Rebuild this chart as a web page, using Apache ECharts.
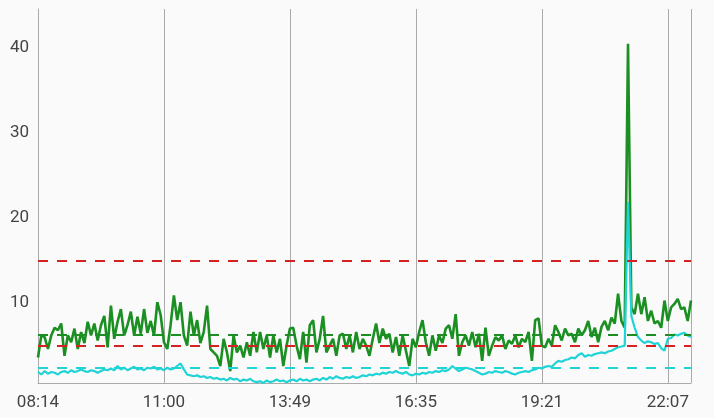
<!DOCTYPE html>
<html>
<head>
<meta charset="utf-8">
<script src="https://cdn.jsdelivr.net/npm/echarts@6/dist/echarts.min.js"></script>
<style>
html,body{margin:0;padding:0;background:#fafafa;}
#chart{width:714px;height:418px;}
</style>
</head>
<body>
<div id="chart"></div>
<script>
// x tick labels (every 38 samples)
const xTickLabels = ['08:14', '11:00', '13:49', '16:35', '19:21', '22:07'];
const samplesPerTick = 38;

// green series values (one per sample)
const greenValues = [
  3.6, 6.2, 6.0, 4.6, 6.2, 7.1, 6.8, 7.6, 3.8, 6.2, 5.4, 7.0, 4.6, 6.6, 5.3, 7.8, 6.2, 7.6, 5.6, 7.4, 8.5, 4.8, 9.7, 5.8, 7.8, 9.3, 6.2, 7.4, 9.0, 6.2, 8.4, 6.4, 9.3,
  6.5, 7.9, 6.2, 10.1, 8.6, 5.4, 4.6, 7.4, 10.9, 8.0, 10.1, 6.2, 5.0, 9.0, 6.2, 8.0, 5.3, 6.6, 9.7, 4.6, 4.2, 3.8, 2.6, 5.8, 4.2, 2.0, 6.2, 4.2, 5.0, 3.6, 5.4, 3.8, 6.6,
  4.2, 6.6, 4.6, 6.2, 3.6, 6.2, 4.2, 5.8, 2.6, 5.0, 7.0, 7.1, 5.0, 3.4, 6.6, 3.0, 7.4, 8.0, 4.2, 5.8, 8.5, 4.2, 5.0, 5.8, 3.8, 6.2, 6.4, 4.6, 6.2, 4.2, 6.6, 4.6, 5.8,
  5.0, 3.8, 5.8, 7.6, 5.3, 7.0, 5.8, 6.4, 4.2, 6.0, 3.8, 6.2, 4.4, 2.6, 5.8, 4.8, 6.6, 8.0, 5.4, 3.8, 6.2, 4.4, 6.2, 5.3, 7.0, 7.4, 5.8, 8.7, 3.8, 5.4, 6.2, 5.0, 6.6,
  4.8, 6.4, 3.2, 7.1, 3.8, 5.0, 6.0, 5.6, 6.2, 4.6, 5.6, 5.2, 6.2, 4.8, 5.8, 5.4, 6.6, 3.2, 8.0, 8.2, 5.0, 4.8, 5.8, 5.0, 7.4, 6.6, 5.6, 7.0, 6.2, 6.4, 5.4, 7.0, 6.2,
  6.8, 7.9, 6.0, 7.1, 5.4, 7.2, 7.9, 6.8, 8.3, 7.6, 11.1, 7.9, 7.1, 40.5, 9.5, 8.7, 11.1, 8.7, 10.7, 7.9, 9.1, 7.6, 7.9, 7.1, 10.3, 7.9, 9.5, 9.9, 10.5, 9.3, 9.5, 7.9, 10.3
];

// cyan series values (one per sample)
const cyanValues = [
  1.9, 1.6, 2.0, 1.7, 1.9, 1.8, 1.6, 1.9, 2.0, 1.8, 2.1, 1.9, 2.0, 2.2, 2.0, 1.9, 2.1, 2.0, 1.8, 2.0, 2.2, 2.1, 2.3, 2.1, 2.6, 2.2, 2.4, 2.1, 2.3, 2.5, 2.2, 2.3, 2.1,
  2.4, 2.3, 2.5, 2.2, 2.3, 2.1, 2.4, 2.2, 2.3, 2.6, 2.9, 2.2, 1.6, 1.5, 1.4, 1.5, 1.3, 1.4, 1.2, 1.3, 1.1, 1.2, 1.0, 1.1, 0.9, 1.2, 1.0, 1.1, 0.8, 1.0, 0.9, 1.1, 0.8,
  0.7, 0.8, 0.6, 0.9, 0.7, 0.8, 1.0, 0.8, 0.9, 0.7, 0.9, 1.0, 0.8, 1.1, 0.9, 1.0, 0.8, 1.0, 1.1, 0.9, 1.2, 1.0, 1.3, 1.1, 1.4, 1.2, 1.1, 1.3, 1.2, 1.4, 1.2, 1.3, 1.5,
  1.4, 1.6, 1.5, 1.7, 1.6, 1.8, 1.7, 1.9, 1.8, 2.0, 1.8, 1.7, 1.9, 1.6, 1.5, 1.7, 1.6, 1.8, 1.7, 1.9, 1.8, 2.0, 1.9, 2.1, 2.0, 2.2, 2.6, 2.3, 2.0, 2.2, 2.4, 2.3, 2.2,
  2.0, 1.8, 1.6, 1.7, 1.9, 1.8, 2.0, 1.9, 1.8, 2.0, 1.9, 1.7, 1.6, 1.8, 1.9, 2.0, 1.9, 2.1, 2.2, 2.4, 2.3, 2.5, 2.6, 2.5, 2.9, 3.2, 3.1, 3.3, 3.4, 3.6, 3.5, 3.9, 4.1,
  3.7, 3.9, 3.8, 4.0, 4.1, 4.2, 4.1, 4.3, 4.4, 4.6, 4.8, 4.9, 5.0, 21.9, 8.5, 7.1, 6.0, 5.6, 5.3, 5.5, 5.4, 5.2, 5.3, 4.7, 4.4, 5.8, 5.9, 6.3, 6.2, 6.4, 6.5, 6.2, 6.0
];

// reference levels
const limitLevels = [15, 5];
const greenAverage = 6.3;
const cyanAverage = 2.4;

const yMin = 0.6;
const yMax = 44.6;

const green = '#1b8f22';
const cyan = '#1fd3d6';
const red = '#d42222';
const gridGray = '#ababab';
const labelColor = '#444444';
const font = 'Roboto';

const lastIndex = greenValues.length - 1;
const greenData = greenValues.map((v, i) => [i, v]);
const cyanData = cyanValues.map((v, i) => [i, v]);

const chart = echarts.init(document.getElementById('chart'), null, {renderer: 'canvas'});

const dashStyle = (color) => ({color: color, width: 1.8, type: [10, 9]});

chart.setOption({
  backgroundColor: '#fafafa',
  animation: false,
  grid: {left: 38, right: 23, top: 9, bottom: 35, containLabel: false},
  xAxis: {
    type: 'value',
    min: 0,
    max: lastIndex,
    interval: samplesPerTick,
    axisLine: {show: true, lineStyle: {color: gridGray, width: 1}},
    axisTick: {show: false},
    splitLine: {show: true, showMinLine: true, showMaxLine: true, lineStyle: {color: gridGray, width: 1}},
    axisLabel: {
      show: true,
      showMaxLabel: false,
      margin: 11,
      color: labelColor,
      fontFamily: font,
      fontSize: 17,
      formatter: function (v) {
        const k = Math.round(v / samplesPerTick);
        if (Math.abs(v - k * samplesPerTick) > 1e-6) return '';
        return xTickLabels[k] || '';
      }
    }
  },
  yAxis: {
    type: 'value',
    min: yMin,
    max: yMax,
    axisLine: {show: true, lineStyle: {color: gridGray, width: 1}},
    axisTick: {show: false},
    splitLine: {show: false},
    axisLabel: {
      show: true,
      showMinLabel: false,
      showMaxLabel: false,
      margin: 9,
      color: labelColor,
      fontFamily: font,
      fontSize: 17,
      formatter: function (v) {
        return (Math.abs(v % 10) < 1e-6) ? String(v) : '';
      }
    }
  },
  series: [
    {
      type: 'line',
      data: greenData,
      showSymbol: false,
      symbol: 'none',
      lineStyle: {color: green, width: 2.6},
      z: 2,
      markLine: {
        silent: true, symbol: 'none', label: {show: false},
        lineStyle: dashStyle(green),
        data: [{yAxis: greenAverage}]
      }
    },
    {
      type: 'line',
      data: cyanData,
      showSymbol: false,
      symbol: 'none',
      lineStyle: {color: cyan, width: 2.2},
      z: 3,
      markLine: {
        silent: true, symbol: 'none', label: {show: false},
        lineStyle: dashStyle(cyan),
        data: [{yAxis: cyanAverage}]
      }
    },
    {
      type: 'line',
      data: [],
      z: 5,
      markLine: {
        silent: true, symbol: 'none', label: {show: false},
        lineStyle: dashStyle(red),
        data: limitLevels.map(v => ({yAxis: v}))
      }
    }
  ]
});
</script>
</body>
</html>
